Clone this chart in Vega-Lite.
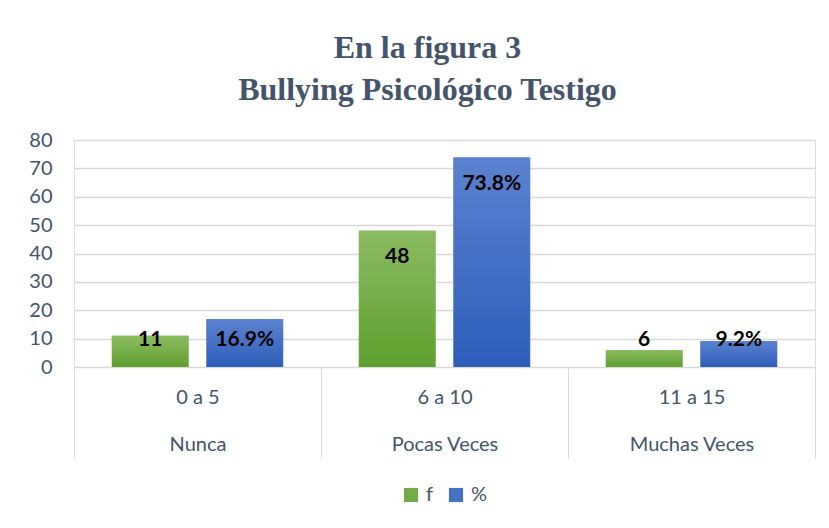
{
  "$schema": "https://vega.github.io/schema/vega-lite/v6.json",
  "width": 741,
  "height": 227,
  "autosize": {"type": "none"},
  "padding": {"left": 74, "top": 140, "right": 14, "bottom": 161},
  "background": "white",
  "config": {
    "legend": {"layout": {"bottom": {"anchor": "middle"}}}
  },
  "title": {
    "text": ["En la figura 3", "Bullying Psicológico Testigo"],
    "font": "Liberation Serif",
    "fontSize": 32,
    "fontWeight": "bold",
    "color": "#44546A",
    "lineHeight": 42,
    "anchor": "middle",
    "dx": -17,
    "offset": 23
  },
  "data": {
    "values": [
      {"grupo": "0 a 5|Nunca", "serie": "f", "valor": 11, "etiqueta": "11"},
      {"grupo": "0 a 5|Nunca", "serie": "%", "valor": 16.9, "etiqueta": "16.9%"},
      {"grupo": "6 a 10|Pocas Veces", "serie": "f", "valor": 48, "etiqueta": "48"},
      {"grupo": "6 a 10|Pocas Veces", "serie": "%", "valor": 73.8, "etiqueta": "73.8%"},
      {"grupo": "11 a 15|Muchas Veces", "serie": "f", "valor": 6, "etiqueta": "6"},
      {"grupo": "11 a 15|Muchas Veces", "serie": "%", "valor": 9.2, "etiqueta": "9.2%"}
    ]
  },
  "encoding": {
    "x": {
      "field": "grupo",
      "type": "nominal",
      "sort": ["0 a 5|Nunca", "6 a 10|Pocas Veces", "11 a 15|Muchas Veces"],
      "scale": {"paddingInner": 0, "paddingOuter": 0},
      "axis": {
        "title": null,
        "labelAngle": 0,
        "labelExpr": "split(datum.label, '|')",
        "labelFont": "Lato",
        "labelFontSize": 20,
        "labelColor": "#44546A",
        "labelLineHeight": 47,
        "labelPadding": -61,
        "labelBaseline": "middle",
        "tickBand": "extent",
        "tickSize": 91,
        "tickColor": "#D9D9D9",
        "tickWidth": 1,
        "domainColor": "#D9D9D9",
        "domainWidth": 1,
        "grid": false
      }
    },
    "xOffset": {
      "field": "serie",
      "type": "nominal",
      "sort": ["f", "%"],
      "scale": {"paddingInner": 0.19, "paddingOuter": 0.4}
    },
    "y": {
      "field": "valor",
      "type": "quantitative",
      "scale": {"domain": [0, 80]},
      "axis": {
        "title": null,
        "values": [0, 10, 20, 30, 40, 50, 60, 70, 80],
        "domain": false,
        "ticks": false,
        "labelFont": "Lato",
        "labelFontSize": 20,
        "labelColor": "#44546A",
        "labelPadding": 22,
        "gridColor": "#D9D9D9",
        "gridWidth": 1.5
      }
    }
  },
  "layer": [
    {
      "mark": {"type": "bar"},
      "encoding": {
        "color": {
          "field": "serie",
          "type": "nominal",
          "sort": ["f", "%"],
          "scale": {"domain": ["f", "%"], "range": ["#70AD47", "#4472C4"]},
          "legend": {
            "title": null,
            "orient": "bottom",
            "direction": "horizontal",
            "symbolType": "square",
            "symbolSize": 200,
            "symbolStrokeWidth": 0,
            "labelFont": "Lato",
            "labelFontSize": 20,
            "labelColor": "#44546A",
            "columnPadding": 12,
            "labelOffset": 5,
            "offset": 26
          }
        }
      }
    },
    {
      "transform": [{"filter": "datum.serie === 'f'"}],
      "mark": {
        "type": "bar",
        "color": {
          "gradient": "linear", "x1": 0, "y1": 0, "x2": 0, "y2": 1,
          "stops": [{"offset": 0, "color": "#8BBB60"}, {"offset": 1, "color": "#5F9F30"}]
        }
      }
    },
    {
      "transform": [{"filter": "datum.serie === '%'"}],
      "mark": {
        "type": "bar",
        "color": {
          "gradient": "linear", "x1": 0, "y1": 0, "x2": 0, "y2": 1,
          "stops": [{"offset": 0, "color": "#5B82D0"}, {"offset": 1, "color": "#2E5EBA"}]
        }
      }
    },
    {
      "transform": [{"filter": "datum.valor > 20"}],
      "mark": {"type": "text", "font": "Lato", "fontSize": 21, "fontWeight": "bold", "color": "black", "baseline": "middle", "dy": 26},
      "encoding": {"text": {"field": "etiqueta"}}
    },
    {
      "transform": [{"filter": "datum.valor <= 20"}],
      "mark": {"type": "text", "font": "Lato", "fontSize": 21, "fontWeight": "bold", "color": "black", "baseline": "middle"},
      "encoding": {"text": {"field": "etiqueta"}, "y": {"datum": 9.5}}
    }
  ]
}
